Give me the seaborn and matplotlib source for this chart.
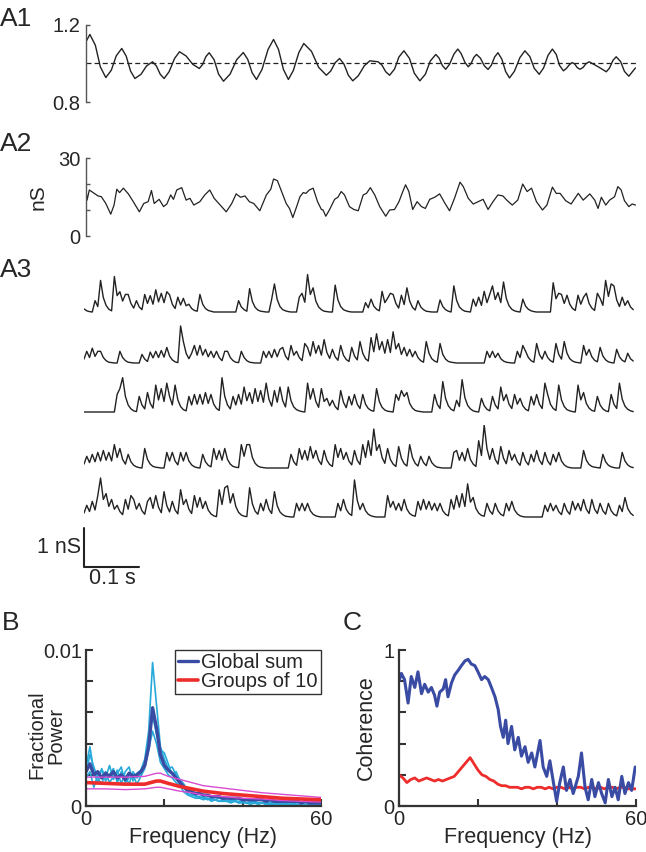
import numpy as np
import matplotlib
matplotlib.use("Agg")
import matplotlib.pyplot as plt
import seaborn as sns

# ---------------------------------------------------------------
# A1: normalised drive, time in ms
a1_t = [0, 7, 17, 26, 36, 46, 55, 65, 73, 81, 89, 100, 110, 121, 128, 135, 142, 151, 161, 170,
        182, 194, 206, 212, 218, 224, 233, 241, 250, 262, 274, 286, 294, 302, 310, 320, 331, 341, 350, 359,
        368, 377, 387, 396, 410, 423, 437, 445, 453, 461, 469, 477, 485, 495, 506, 516, 531, 538, 545, 552,
        561, 569, 578, 588, 597, 607, 617, 626, 636, 642, 648, 654, 661, 669, 676, 682, 689, 695, 700, 705,
        710, 717, 724, 731, 737, 743, 749, 756, 763, 770, 779, 789, 798, 807, 815, 824, 832, 840, 848, 855,
        861, 868, 873, 879, 884, 889, 893, 898, 904, 909, 915, 933, 946, 952, 958, 964, 972, 979, 987, 999]
a1_v = [1.113, 1.151, 1.095, 0.983, 0.927, 0.965, 1.040, 1.078, 1.039, 0.961,
        0.922, 0.944, 0.987, 1.009, 0.987, 0.944, 0.922, 0.957, 1.026, 1.061,
        1.039, 0.996, 0.974, 0.995, 1.036, 1.056, 1.019, 0.945, 0.908, 0.945,
        1.020, 1.057, 1.022, 0.952, 0.917, 0.969, 1.073, 1.125, 1.073, 0.969,
        0.917, 0.964, 1.057, 1.104, 1.063, 0.980, 0.939, 0.961, 1.004, 1.026,
        0.997, 0.939, 0.910, 0.936, 0.988, 1.014, 1.009, 0.992, 0.957, 0.939,
        0.971, 1.034, 1.066, 1.027, 0.949, 0.910, 0.944, 1.013, 1.047, 1.028,
        0.989, 0.970, 0.996, 1.049, 1.075, 1.052, 1.006, 0.983, 0.999, 1.031,
        1.047, 1.028, 0.989, 0.969, 0.991, 1.034, 1.056, 1.023, 0.958, 0.925,
        0.960, 1.031, 1.066, 1.036, 0.975, 0.944, 0.977, 1.042, 1.075, 1.047,
        0.990, 0.962, 0.973, 0.994, 1.005, 0.996, 0.979, 0.970, 0.980, 0.999,
        1.009, 0.980, 0.957, 0.977, 1.016, 1.035, 1.010, 0.959, 0.934, 0.977]

# A2: summed conductance (nS)
a2_t = [0, 2, 6, 13, 22, 28, 36, 45, 51, 56, 61, 68, 77, 86, 97, 105, 113, 119, 124, 133,
        141, 147, 154, 159, 165, 174, 182, 189, 196, 207, 216, 225, 233, 244, 255, 265, 273, 281, 289, 297,
        305, 316, 328, 336, 341, 348, 354, 364, 370, 376, 383, 389, 395, 400, 406, 413, 421, 428,
        431, 436, 443, 452, 458, 464, 470, 479, 487, 495, 504, 510, 517, 525, 534, 545, 552, 561, 569, 576,
        581, 587, 594, 602, 610, 617, 625, 634, 643, 652, 661, 670, 680, 686, 695, 704, 713, 722, 731, 740,
        749, 758, 765, 775, 785, 794, 802, 810, 819, 830, 838, 848, 855, 862, 872, 882, 895, 904, 916, 925,
        931, 937, 945, 952, 961, 967, 973, 979, 987, 993, 999]
a2_g = [17.7, 13.8, 17.7, 16.7, 15.4, 15.1, 12.5, 8.4, 11.9, 18.0, 16.7, 18.4, 16.2, 13.2, 9.3, 12.5, 13.2, 17.5, 12.5, 14.1,
        11.3, 12.3, 15.8, 14.1, 17.7, 18.6, 13.8, 14.5, 11.9, 13.2, 15.8, 17.7, 14.5, 11.9, 9.3, 12.5, 16.2, 14.9, 15.4, 13.2,
        12.5, 9.7, 15.8, 18.0, 21.9, 21.3, 18.0, 12.5, 10.6, 7.1, 11.3, 15.1, 16.7, 16.4, 17.7, 18.4, 13.2, 10.2,
        10.0, 7.6, 10.2, 14.1, 14.9, 17.1, 15.8, 11.3, 10.2, 9.7, 15.8, 16.4, 18.6, 15.8, 11.3, 7.6, 10.0, 10.2, 13.2, 17.1,
        19.7, 17.1, 10.2, 13.2, 11.3, 10.6, 14.1, 14.9, 16.2, 12.8, 9.7, 14.5, 20.7, 19.0, 14.5, 12.3, 13.2, 14.1, 10.2, 13.2,
        15.8, 15.4, 13.8, 11.9, 13.8, 20.0, 17.1, 18.4, 13.2, 10.0, 11.9, 18.8, 16.4, 16.4, 13.6, 12.3, 16.4, 13.8, 16.2, 13.8,
        10.6, 14.9, 11.9, 13.8, 15.1, 19.0, 17.7, 13.6, 11.3, 12.3, 11.9]

# A3: five example cells, conductance in 0.01 nS, one sample every 5 ms
a3_dt = 5
a3_cell1 = [8, 3, 1, 0, 29, 14, 81, 37, 17, 7, 3, 91, 42, 52, 28, 45, 45, 22, 10, 29,
            13, 6, 45, 22, 42, 20, 57, 26, 48, 24, 52, 44, 20, 9, 38, 18, 35, 16, 20, 9,
            4, 2, 45, 20, 9, 4, 2, 0, 0, 0, 0, 0, 0, 0, 0, 0, 29, 13, 6, 2,
            60, 27, 12, 5, 2, 1, 0, 0, 33, 72, 32, 14, 6, 3, 1, 0, 0, 0, 38, 48,
            25, 96, 45, 62, 28, 13, 6, 2, 1, 0, 0, 69, 31, 14, 6, 3, 1, 0, 0, 0,
            0, 0, 24, 11, 33, 15, 7, 3, 53, 24, 35, 48, 45, 22, 10, 43, 19, 62, 28, 12,
            5, 29, 13, 6, 2, 1, 0, 0, 0, 31, 14, 6, 2, 0, 67, 30, 13, 6, 2, 1,
            0, 33, 15, 38, 17, 53, 24, 45, 67, 32, 50, 24, 77, 35, 16, 7, 3, 1, 0, 33,
            15, 7, 3, 1, 0, 0, 0, 0, 0, 0, 75, 34, 48, 45, 22, 43, 20, 9, 4, 43,
            20, 38, 48, 22, 10, 4, 48, 35, 17, 81, 40, 72, 67, 31, 14, 38, 17, 29, 13, 6]
a3_cell2 = [10, 30, 14, 38, 17, 30, 30, 14, 6, 2, 1, 0, 0, 30, 14, 6, 2, 1, 0, 0,
            0, 22, 10, 4, 28, 13, 30, 14, 32, 15, 40, 18, 8, 3, 1, 95, 55, 25, 11, 25,
            45, 20, 45, 20, 35, 16, 30, 14, 30, 14, 6, 30, 30, 14, 6, 2, 1, 30, 14, 6,
            2, 1, 0, 0, 0, 30, 14, 30, 14, 35, 16, 35, 40, 18, 8, 45, 20, 30, 14, 6,
            50, 40, 18, 55, 25, 45, 20, 60, 27, 12, 35, 16, 7, 45, 20, 9, 4, 40, 18, 8,
            55, 25, 11, 5, 65, 29, 75, 34, 55, 25, 60, 27, 80, 36, 50, 22, 40, 18, 35, 16,
            30, 14, 6, 2, 55, 25, 11, 5, 2, 50, 22, 10, 4, 2, 1, 0, 0, 0, 0, 0,
            0, 0, 0, 0, 0, 0, 30, 14, 30, 14, 25, 11, 5, 2, 1, 0, 0, 30, 14, 45,
            30, 14, 6, 2, 50, 22, 10, 30, 14, 6, 2, 50, 22, 10, 55, 25, 11, 5, 2, 1,
            0, 45, 20, 35, 16, 7, 3, 40, 18, 8, 3, 1, 0, 35, 16, 7, 3, 25, 11, 5]
a3_cell3 = [0, 0, 0, 0, 0, 0, 0, 0, 0, 0, 0, 0, 45, 60, 88, 40, 18, 8, 3, 1,
            40, 18, 8, 50, 22, 10, 69, 31, 60, 27, 74, 40, 18, 69, 31, 14, 6, 3, 40, 18,
            45, 20, 45, 20, 50, 22, 45, 20, 9, 4, 88, 40, 18, 8, 40, 18, 45, 20, 64, 29,
            50, 22, 60, 27, 55, 25, 74, 33, 15, 55, 25, 64, 29, 13, 64, 29, 13, 6, 3, 1,
            0, 74, 33, 60, 27, 12, 60, 27, 35, 16, 30, 14, 6, 55, 25, 11, 40, 18, 45, 20,
            9, 45, 20, 9, 4, 2, 60, 27, 12, 5, 2, 1, 0, 45, 30, 55, 40, 50, 22, 10,
            4, 2, 1, 0, 0, 0, 0, 45, 20, 9, 78, 35, 16, 7, 3, 30, 14, 83, 37, 17,
            8, 3, 1, 0, 35, 16, 7, 3, 40, 18, 8, 64, 29, 45, 20, 9, 45, 20, 35, 16,
            7, 3, 40, 18, 45, 20, 9, 74, 45, 20, 9, 4, 69, 31, 14, 6, 3, 1, 0, 69,
            31, 50, 22, 10, 4, 2, 40, 18, 8, 3, 1, 45, 20, 9, 74, 33, 15, 7, 3, 1]
a3_cell4 = [10, 30, 14, 35, 16, 40, 18, 45, 20, 40, 18, 60, 27, 50, 22, 10, 35, 16, 7, 3,
            1, 0, 50, 22, 10, 4, 2, 1, 0, 0, 40, 18, 40, 18, 8, 40, 18, 40, 18, 8,
            3, 1, 0, 35, 16, 7, 3, 50, 22, 45, 20, 50, 22, 10, 4, 2, 1, 60, 30, 60,
            60, 27, 12, 5, 2, 1, 0, 0, 0, 0, 0, 0, 0, 0, 0, 35, 16, 7, 50, 22,
            45, 20, 55, 25, 45, 20, 9, 45, 20, 9, 4, 60, 27, 50, 22, 40, 18, 8, 45, 20,
            9, 60, 27, 70, 32, 100, 45, 60, 27, 12, 50, 22, 10, 4, 55, 25, 11, 5, 60, 27,
            12, 5, 30, 14, 6, 30, 14, 6, 2, 1, 0, 0, 0, 0, 40, 45, 20, 40, 18, 50,
            22, 10, 4, 70, 32, 110, 50, 22, 50, 22, 10, 55, 25, 11, 45, 20, 35, 16, 7, 40,
            18, 8, 35, 16, 45, 20, 9, 40, 18, 8, 35, 16, 40, 18, 8, 3, 1, 0, 0, 0,
            0, 45, 20, 9, 4, 2, 1, 0, 35, 16, 7, 3, 1, 0, 0, 40, 18, 8, 3, 1]
a3_cell5 = [10, 30, 14, 40, 18, 55, 100, 45, 60, 27, 45, 20, 30, 14, 6, 45, 20, 55, 45, 20,
            35, 16, 7, 40, 50, 22, 55, 25, 11, 65, 29, 13, 40, 18, 8, 70, 32, 45, 20, 9,
            55, 25, 50, 22, 40, 18, 8, 3, 1, 70, 32, 75, 80, 36, 60, 27, 12, 5, 2, 1,
            75, 34, 15, 7, 35, 16, 45, 20, 9, 65, 29, 13, 6, 2, 1, 0, 0, 35, 16, 35,
            16, 35, 16, 7, 3, 1, 0, 0, 0, 0, 0, 0, 35, 16, 45, 20, 9, 4, 95, 43,
            19, 35, 16, 7, 3, 1, 0, 0, 0, 0, 55, 25, 40, 18, 35, 16, 45, 20, 9, 4,
            2, 40, 18, 45, 20, 40, 18, 35, 16, 35, 16, 7, 3, 45, 20, 55, 25, 60, 27, 85,
            38, 50, 22, 10, 4, 2, 35, 16, 7, 35, 16, 7, 3, 35, 16, 40, 18, 8, 3, 1,
            0, 0, 0, 0, 0, 0, 0, 30, 14, 35, 16, 30, 14, 6, 35, 16, 7, 40, 18, 35,
            16, 45, 20, 9, 45, 20, 9, 35, 16, 7, 35, 16, 7, 3, 30, 14, 50, 22, 10, 4]

# B: fractional power (x 1e-4), 1 Hz bins
freq = list(range(61))
pow_global_mean = [22, 27, 20, 22, 18, 21, 19, 22, 18, 20, 17, 21, 19, 20, 22, 26, 38, 63, 50, 33,
                   26, 23, 21, 18, 15, 12, 10, 9, 8, 8, 7, 7, 6, 6, 6, 5, 5, 5, 5, 5,
                   4, 4, 4, 4, 4, 4, 3, 4, 3, 3, 3, 3, 3, 3, 3, 2, 3, 2, 2, 2, 2]
pow_global_a = [25, 38, 22, 15, 24, 18, 26, 17, 23, 14, 22, 25, 16, 21, 23, 30, 48, 92, 65, 38,
                30, 24, 25, 20, 17, 14, 10, 8, 6, 6, 5, 5, 4, 4, 5, 4, 3, 4, 3, 3,
                3, 2, 3, 2, 2, 2, 2, 2, 1, 2, 1, 2, 1, 1, 1, 1, 1, 1, 1, 1, 1]
pow_global_b = [18, 22, 12, 20, 23, 16, 20, 24, 15, 22, 19, 14, 22, 18, 20, 28, 42, 58, 46, 36,
                34, 27, 20, 22, 16, 12, 8, 7, 7, 5, 6, 4, 5, 4, 3, 4, 3, 3, 4, 2,
                3, 2, 2, 3, 2, 2, 1, 2, 2, 1, 2, 1, 1, 2, 1, 1, 1, 1, 1, 1, 1]
pow_global_c = [20, 33, 25, 18, 14, 22, 15, 19, 21, 25, 15, 18, 20, 14, 19, 24, 36, 48, 40, 28,
                24, 20, 18, 15, 13, 9, 7, 6, 5, 5, 4, 5, 3, 4, 3, 3, 3, 2, 3, 2,
                2, 2, 1, 2, 1, 2, 1, 1, 1, 1, 1, 1, 1, 1, 0, 1, 1, 0, 1, 0, 1]
grp_freq = [0, 5, 10, 15, 18, 19, 21, 24, 27, 30, 35, 40, 45, 50, 55, 60]
pow_groups_mean = [15, 14.5, 14, 14, 16, 16, 14.5, 12.5, 11, 9.5, 8, 7, 6, 5, 4.5, 4]
pow_groups_hi = [18.5, 18.5, 18.5, 19, 21, 21, 19, 17, 15, 13, 11.5, 10, 8.5, 7.5, 6.5, 5.5]
pow_groups_lo = [11, 11, 10.5, 11, 12, 12, 11, 9.5, 8.5, 7, 6, 5, 4.5, 3.5, 3, 2.5]

# C: coherence
coh_global_f = [0, 0.6, 1.4, 2.3, 3.1, 4.0, 4.8, 5.7, 6.5, 7.4, 8.2, 9.0, 9.6, 10.3, 11.2, 11.8, 12.4, 13.3,
                14.1, 15.0, 15.8, 16.7, 17.5, 18.3, 19.2, 20.0, 20.9, 21.7, 22.6, 23.4, 24.3, 25.1, 25.7,
                26.4, 27.0, 27.6, 28.5, 29.3, 30.2, 31.0, 31.9, 32.7, 33.6, 34.4, 35.7, 36.5, 37.4, 38.2,
                39.1, 39.9, 40.7, 41.6, 42.4, 43.3, 44.1, 45.4, 46.2, 47.1, 47.9, 48.8, 49.6, 50.5, 51.3,
                52.2, 53.0, 53.9, 54.7, 55.5, 56.4, 57.2, 58.1, 58.9, 59.8]
coh_global = [0.80, 0.85, 0.81, 0.66, 0.83, 0.76, 0.86, 0.72, 0.78, 0.73, 0.76, 0.71, 0.64, 0.73, 0.75, 0.81,
              0.70, 0.79, 0.84, 0.87, 0.90, 0.93, 0.94, 0.91, 0.90, 0.86, 0.81, 0.83, 0.81, 0.76, 0.70, 0.62,
              0.51, 0.44, 0.55, 0.40, 0.51, 0.36, 0.44, 0.32, 0.38, 0.28, 0.34, 0.25, 0.42, 0.25, 0.19, 0.29,
              0.15, 0.03, 0.15, 0.25, 0.10, 0.17, 0.08, 0.19, 0.34, 0.12, 0.04, 0.17, 0.06, 0.15, 0.08, 0.02,
              0.17, 0.06, 0.12, 0.04, 0.19, 0.08, 0.15, 0.10, 0.25]
coh_groups = [0.20, 0.18, 0.15, 0.17, 0.18, 0.16, 0.17, 0.18, 0.17, 0.16, 0.17, 0.16, 0.17, 0.18, 0.19,
              0.22, 0.25, 0.28, 0.31, 0.27, 0.23, 0.20, 0.19, 0.17, 0.16, 0.14, 0.13, 0.13, 0.12, 0.12,
              0.12, 0.11, 0.12, 0.12, 0.11, 0.12, 0.12, 0.11, 0.12, 0.11, 0.12, 0.12, 0.11, 0.12, 0.11,
              0.12, 0.12, 0.11, 0.12, 0.12, 0.11, 0.12, 0.11, 0.12, 0.12, 0.11, 0.12, 0.12, 0.11, 0.11, 0.11]

INK = '#222222'
BLUE = '#3A4BA3'
CYAN = '#27A9DA'
RED = '#EE2C2C'
MAGENTA = '#D94BD1'

sns.set_theme(style="white")
plt.rcParams['font.family'] = ['Liberation Sans', 'DejaVu Sans']

W, H = 646, 852
fig = plt.figure(figsize=(W / 100, H / 100), dpi=100)


def px_axes(left, top, right, bottom):
    # axes box given in pixels from the top-left corner
    return fig.add_axes([left / W, 1 - bottom / H, (right - left) / W, (bottom - top) / H])


def bracket_axis(ax, ticks, labels):
    for s in ['top', 'right', 'bottom']:
        ax.spines[s].set_visible(False)
    ax.spines['left'].set_color('#555555')
    ax.spines['left'].set_linewidth(1.0)
    ax.set_xticks([])
    ax.set_yticks(ticks)
    ax.set_yticklabels(labels)
    ax.tick_params(axis='y', left=True, direction='in', length=3, width=1.0,
                   color='#555555', labelsize=14.5, pad=4)
    ax.set_xlabel('')
    ax.set_ylabel('')


def matlab_axis(ax, yticks, ylabels):
    for s in ['top', 'right']:
        ax.spines[s].set_visible(False)
    for s in ['left', 'bottom']:
        ax.spines[s].set_color('#333333')
        ax.spines[s].set_linewidth(1.6)
    ax.set_xlim(0, 60)
    ax.set_xticks([0, 20, 40, 60])
    ax.set_xticklabels(['0', '', '', '60'])
    ax.set_yticks(yticks)
    ax.set_yticklabels(ylabels)
    ax.tick_params(left=True, bottom=True, direction='in', length=5, width=1.5,
                   color='#333333', labelsize=14.5, pad=3)
    ax.set_xlabel('')
    ax.set_ylabel('')


# ---- A1
ax = px_axes(86, 25, 636, 102)
sns.lineplot(x=a1_t, y=a1_v, ax=ax, color=INK, linewidth=1.0, estimator=None)
ax.axhline(1.0, color=INK, linewidth=0.9, linestyle=(0, (4, 2.5)))
ax.set_xlim(0, 1000)
ax.set_ylim(0.8, 1.2)
bracket_axis(ax, [0.8, 1.2], ['0.8', '1.2'])

# ---- A2
ax = px_axes(86, 158, 636, 236)
sns.lineplot(x=a2_t, y=a2_g, ax=ax, color=INK, linewidth=0.9, estimator=None)
ax.set_xlim(0, 1000)
ax.set_ylim(0, 30)
bracket_axis(ax, [0, 10, 20, 30], ['0', '', '', '30'])
fig.text(38 / W, 1 - 197 / H, 'nS', rotation=90, ha='center', va='center', fontsize=15)

# ---- A3
baselines = [312, 363, 412, 468, 517]
cells = [a3_cell1, a3_cell2, a3_cell3, a3_cell4, a3_cell5]
nS_px = 39
for base, cell in zip(baselines, cells):
    ax = px_axes(84, base - 1.1 * nS_px, 636, base + 0.1 * nS_px)
    t = np.arange(len(cell)) * a3_dt
    sns.lineplot(x=t, y=np.array(cell) / 100.0, ax=ax, color=INK, linewidth=1.0, estimator=None)
    ax.set_xlim(0, 1000)
    ax.set_ylim(-0.1, 1.1)
    ax.axis('off')

# scale bar under the last cell: 1 nS, 0.1 s
ax.plot([0, 0, 100], [-0.28, -1.28, -1.28], color=INK, linewidth=1.5, clip_on=False)
ax.text(-6, -0.78, '1 nS', ha='right', va='center', fontsize=15.5)
ax.text(51, -1.58, '0.1 s', ha='center', va='center', fontsize=15.5)

# ---- B
axB = px_axes(86, 650, 321, 806)
for trace in [pow_global_a, pow_global_b, pow_global_c]:
    sns.lineplot(x=freq, y=np.array(trace) * 1e-4, ax=axB, color=CYAN, linewidth=1.2, estimator=None)
sns.lineplot(x=freq, y=np.array(pow_global_mean) * 1e-4, ax=axB, color=BLUE, linewidth=2.4,
             estimator=None, label='Global sum')
for trace in [pow_groups_hi, pow_groups_lo]:
    sns.lineplot(x=grp_freq, y=np.array(trace) * 1e-4, ax=axB, color=MAGENTA, linewidth=1.0, estimator=None)
sns.lineplot(x=grp_freq, y=np.array(pow_groups_mean) * 1e-4, ax=axB, color=RED, linewidth=2.6,
             estimator=None, label='Groups of 10')
axB.set_ylim(0, 0.01)
matlab_axis(axB, [0, 0.002, 0.004, 0.006, 0.008, 0.01], ['0', '', '', '', '', '0.01'])
handles, labels = axB.get_legend_handles_labels()
axB.legend(handles, labels, loc='upper right', bbox_to_anchor=(1, 1), borderaxespad=0,
           frameon=True, fancybox=False, framealpha=1, edgecolor='#333333', fontsize=14.5,
           handlelength=1.0, handletextpad=0.15, borderpad=0.15, labelspacing=0.0)
axB.get_legend().get_frame().set_linewidth(1.0)
fig.text(46 / W, 1 - 735 / H, 'Fractional\nPower', rotation=90, ha='center', va='center',
         fontsize=14.5, linespacing=1.0)
fig.text(203 / W, 1 - 838 / H, 'Frequency (Hz)', ha='center', va='center', fontsize=15.5)

# ---- C
axC = px_axes(399, 650, 636, 806)
sns.lineplot(x=freq, y=coh_groups, ax=axC, color=RED, linewidth=2.0, estimator=None)
sns.lineplot(x=coh_global_f, y=coh_global, ax=axC, color=BLUE, linewidth=2.2, estimator=None)
axC.set_ylim(0, 1)
matlab_axis(axC, [0, 0.2, 0.4, 0.6, 0.8, 1.0], ['0', '', '', '', '', '1'])
fig.text(366 / W, 1 - 728 / H, 'Coherence', rotation=90, ha='center', va='center', fontsize=15.5)
fig.text(518 / W, 1 - 838 / H, 'Frequency (Hz)', ha='center', va='center', fontsize=15.5)

# ---- panel letters
for txt, x, y in [('A1', 0, 19), ('A2', 0, 144), ('A3', 0, 270), ('B', 2, 623), ('C', 343, 623)]:
    fig.text(x / W, 1 - y / H, txt, ha='left', va='center', fontsize=19)

fig.savefig('out.png', dpi=100)
